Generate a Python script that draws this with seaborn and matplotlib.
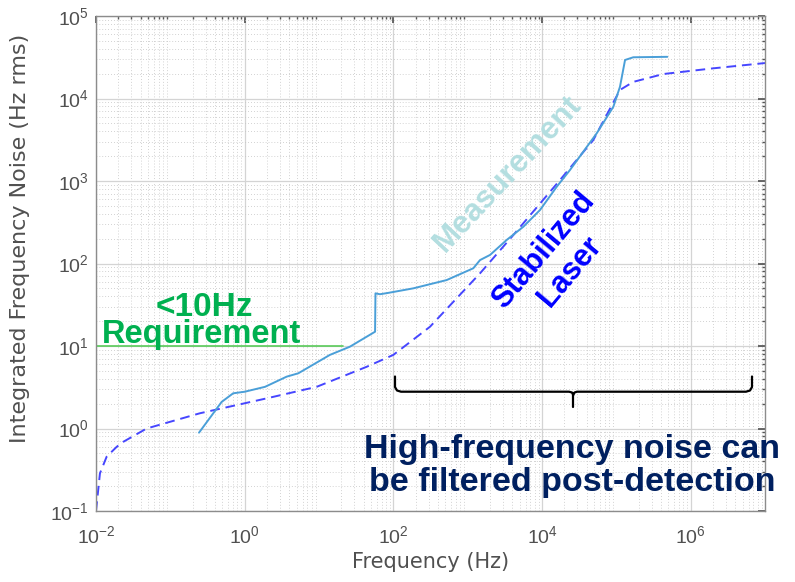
import numpy as np
import pandas as pd
import matplotlib
matplotlib.use("Agg")
import matplotlib.pyplot as plt
import seaborn as sns
from matplotlib.ticker import LogLocator, NullFormatter

# ---- data ----
meas_freq = [0.243, 0.49, 0.70, 1.0, 1.88, 3.67, 5.27, 14, 26, 56.8, 57.5, 66, 85, 186,
             522, 1190, 1466, 2000, 3350, 5610, 9400, 15800, 23800, 54500, 91200, 112000,
             131000, 169000, 485000]
meas_noise = [0.89, 2.1, 2.67, 2.79, 3.2, 4.25, 4.67, 7.8, 9.8, 14.9, 43.5, 42.4, 44, 50,
              63, 87.5, 110, 127, 193, 279, 445, 853, 1360, 3790, 7950, 13900,
              29300, 31600, 32000]

laser_freq = [0.01, 0.0113, 0.0139, 0.019, 0.0233, 0.048, 0.25, 1.98, 9.3, 43.8, 100,
              311, 1466, 4110, 17500, 49000, 112000, 169000, 429000, 2.0e6, 1.0e7]
laser_noise = [0.1, 0.286, 0.455, 0.60, 0.69, 1.0, 1.53, 2.32, 3.2, 5.6, 7.8,
               17.1, 76, 221, 1030, 3140, 12700, 15900, 19800, 23200, 26900]

req_freq = [0.01, 21]
req_noise = [10, 10]

x_ticks = [1e-2, 1e0, 1e2, 1e4, 1e6]
y_ticks = [1e-1, 1e0, 1e1, 1e2, 1e3, 1e4, 1e5]

sns.set_theme(style="white")
plt.rcParams['font.family'] = ['Liberation Sans', 'DejaVu Sans']
plt.rcParams['mathtext.fontset'] = 'custom'
plt.rcParams['mathtext.rm'] = 'Liberation Sans'

fig = plt.figure(figsize=(7.95, 5.82), dpi=100)
ax = fig.add_axes([96/795, 1 - 511/582, (765-96)/795, (511-16)/582])

df_m = pd.DataFrame({"f": meas_freq, "n": meas_noise})
df_l = pd.DataFrame({"f": laser_freq, "n": laser_noise})
df_r = pd.DataFrame({"f": req_freq, "n": req_noise})

sns.lineplot(data=df_l, x="f", y="n", ax=ax, color="#4646ff", lw=1.4,
             linestyle=(0, (5, 3)), sort=False, estimator=None)
sns.lineplot(data=df_m, x="f", y="n", ax=ax, color="#4a9fd8", lw=1.4,
             sort=False, estimator=None)
sns.lineplot(data=df_r, x="f", y="n", ax=ax, color="#5acb5a", lw=1.2,
             sort=False, estimator=None)

ax.set_xscale("log")
ax.set_yscale("log")
ax.set_xlim(1e-2, 1e7)
ax.set_ylim(1e-1, 1e5)
ax.set_xticks(x_ticks)
ax.set_yticks(y_ticks)
ax.xaxis.set_minor_locator(LogLocator(base=10, subs=np.arange(2, 10), numticks=50))
ax.yaxis.set_minor_locator(LogLocator(base=10, subs=np.arange(2, 10), numticks=50))
ax.xaxis.set_minor_formatter(NullFormatter())
ax.yaxis.set_minor_formatter(NullFormatter())

ax.grid(True, which="major", color="#d4d4d4", lw=0.9, linestyle="-")
ax.grid(True, which="minor", color="#c4c4c4", lw=0.6, linestyle=(0, (1, 2.5)))
ax.set_axisbelow(True)

for s in ax.spines.values():
    s.set_visible(True)
    s.set_color("#8c8c8c")
    s.set_linewidth(1.0)
ax.tick_params(which="both", direction="in", top=True, right=True, colors="#555555",
               labelcolor="#505050", labelsize=14)
ax.tick_params(which="major", length=5)
ax.tick_params(which="minor", length=2.5)
ax.tick_params(axis="x", which="major", pad=10)
ax.tick_params(axis="y", which="major", pad=5)

ax.set_xlabel("Frequency (Hz)", fontsize=15, color="#505050", labelpad=4,
              family=["DejaVu Sans"])
ax.set_ylabel("Integrated Frequency Noise (Hz rms)", fontsize=16, color="#505050",
              family=["DejaVu Sans"])
ax.yaxis.set_label_coords(-0.098, 0.55)

# annotations
ax.text(204/795, 1 - 307/582, "<10Hz", transform=fig.transFigure, color="#00b050",
        fontsize=24, fontweight="bold", ha="center", va="center")
ax.text(202/795, 1 - 335/582, "Requirement", transform=fig.transFigure, color="#00b050",
        fontsize=23.5, fontweight="bold", ha="center", va="center")
ax.text(508/795, 1 - 174/582, "Measurement", transform=fig.transFigure, color="#b3dee0",
        fontsize=22.5, fontweight="bold", ha="center", va="center", rotation=47)
ax.text(557/795, 1 - 261/582, "Stabilized\nLaser", transform=fig.transFigure, color="#0000ff",
        fontsize=22, fontweight="bold", ha="center", va="center", rotation=50,
        linespacing=1.2)
ax.text(572/795, 1 - 466/582, "High-frequency noise can\nbe filtered post-detection",
        transform=fig.transFigure, color="#002060", fontsize=24.5, fontweight="bold",
        ha="center", va="center", linespacing=1.05)

# brace
def fx(px):
    return px / 795
def fy(py):
    return 1 - py / 582
bx = [395, 395, 397, 401, 569, 572, 573.3, 574.5, 577, 746, 750, 752, 752]
by = [376.5, 387, 390.5, 391.7, 391.7, 392.5, 395, 392.5, 391.7, 391.7, 390.5, 387, 376.5]
fig.add_artist(plt.Line2D([fx(v) for v in bx], [fy(v) for v in by], color="black", lw=1.6,
                          transform=fig.transFigure))
fig.add_artist(plt.Line2D([fx(573.3), fx(573.3)], [fy(393), fy(407)], color="black", lw=1.6,
                          transform=fig.transFigure))

fig.savefig("out.png", dpi=100, facecolor="white")
